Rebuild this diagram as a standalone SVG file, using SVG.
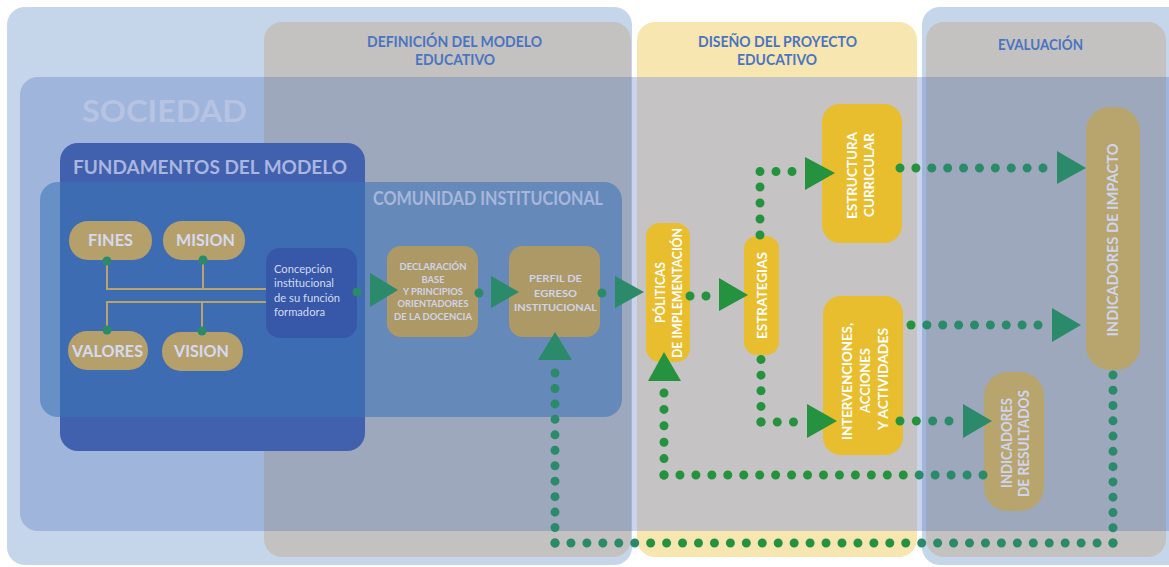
<svg xmlns="http://www.w3.org/2000/svg" width="1169" height="567" viewBox="0 0 1169 567">
<style>
.hd{font-family:Lato,"Liberation Sans",sans-serif;font-weight:700;fill:#4a74c0;font-size:14.5px;text-anchor:middle}
.bt{font-family:Lato,"Liberation Sans",sans-serif;font-weight:700}
.pill{fill:#b5a06b}
.pt{font-family:Lato,"Liberation Sans",sans-serif;font-weight:700;fill:#d5daf0;font-size:17px;text-anchor:middle}
.ct{font-family:Lato,"Liberation Sans",sans-serif;fill:#d3dbef;font-size:11.5px}
.dt{font-family:Lato,"Liberation Sans",sans-serif;font-weight:700;fill:#d0d4e8;font-size:9.5px;text-anchor:middle}
.yl{fill:#e8bd2e}
.yt{font-family:Lato,"Liberation Sans",sans-serif;font-weight:700;fill:#ffffff;font-size:14px;text-anchor:middle}
.it{font-family:Lato,"Liberation Sans",sans-serif;font-weight:700;fill:#cfd5ec;font-size:15px;text-anchor:middle}
.tl{fill:none;stroke:#b9a36b;stroke-width:2}
.dot{fill:none;stroke-width:9;stroke-linecap:round}
.teal{stroke:#2b8a6a}
.grn{stroke:#24923f}
.tri-t{fill:#2b8a6a}
.tri-g{fill:#24923f}
.cd{fill:#2b8a6a}
</style>
<rect width="1169" height="567" fill="#ffffff"/>
<g id="background">
<rect x="7" y="7" width="625" height="558" rx="18" fill="#c5d5ea"/>
<rect x="922" y="7" width="270" height="558" rx="18" fill="#c5d5ea"/>
<rect x="264" y="22" width="367" height="535" rx="18" fill="#c4c2c1"/>
<rect x="637" y="22" width="280" height="535" rx="18" fill="#f8e6b1"/>
<rect x="926" y="22" width="240" height="535" rx="18" fill="#c4c2c1"/>
<rect x="20" y="77" width="1180" height="454" rx="18" fill="#3d66b4" fill-opacity="0.28"/>
<rect x="637" y="77" width="280" height="454" fill="#c5c3c3"/>
<text class="hd" x="454.5" y="47" textLength="175" lengthAdjust="spacingAndGlyphs">DEFINICIÓN DEL MODELO</text>
<text class="hd" x="455" y="65" textLength="80" lengthAdjust="spacingAndGlyphs">EDUCATIVO</text>
<text class="hd" x="777.5" y="47" textLength="159" lengthAdjust="spacingAndGlyphs">DISEÑO DEL PROYECTO</text>
<text class="hd" x="777" y="65" textLength="80" lengthAdjust="spacingAndGlyphs">EDUCATIVO</text>
<text class="hd" x="1040.5" y="50" textLength="85" lengthAdjust="spacingAndGlyphs">EVALUACIÓN</text>
<text class="bt" x="82" y="122" font-size="31" fill="#b6c3e3" textLength="165" lengthAdjust="spacingAndGlyphs">SOCIEDAD</text>
</g>
<g id="fundamentos">
<rect x="60" y="143" width="305" height="308" rx="18" fill="#4160ad"/>
<text class="bt" x="73" y="174" font-size="19.5" fill="#aab6df" textLength="274" lengthAdjust="spacingAndGlyphs">FUNDAMENTOS DEL MODELO</text>
</g>
<g id="comunidad">
<rect x="40" y="182" width="582" height="235" rx="18" fill="#3c75b7" fill-opacity="0.58"/>
<text class="bt" x="373" y="205" font-size="18" fill="#a8b6dc" textLength="230" lengthAdjust="spacingAndGlyphs">COMUNIDAD INSTITUCIONAL</text>
</g>
<g id="fines"><rect class="pill" x="69" y="221" width="83" height="39" rx="19"/><text class="pt" x="110.5" y="246" textLength="45" lengthAdjust="spacingAndGlyphs">FINES</text></g>
<g id="mision"><rect class="pill" x="163" y="221" width="82" height="39" rx="19"/><text class="pt" x="205.5" y="246" textLength="59" lengthAdjust="spacingAndGlyphs">MISION</text></g>
<g id="valores"><rect class="pill" x="68" y="331" width="80" height="39" rx="19"/><text class="pt" x="107.5" y="357" textLength="71" lengthAdjust="spacingAndGlyphs">VALORES</text></g>
<g id="vision"><rect class="pill" x="162" y="332" width="81" height="39" rx="19"/><text class="pt" x="201.5" y="357" textLength="55" lengthAdjust="spacingAndGlyphs">VISION</text></g>
<g id="concepcion">
<rect x="266" y="248" width="91" height="90" rx="14" fill="#3757a9"/>
<text class="ct" x="274" y="273" textLength="58" lengthAdjust="spacingAndGlyphs">Concepción</text>
<text class="ct" x="274" y="287" textLength="60" lengthAdjust="spacingAndGlyphs">institucional</text>
<text class="ct" x="274" y="302" textLength="66" lengthAdjust="spacingAndGlyphs">de su función</text>
<text class="ct" x="274" y="316" textLength="51" lengthAdjust="spacingAndGlyphs">formadora</text>
</g>
<g id="declaracion">
<rect x="387" y="246" width="91" height="91" rx="14" fill="#ad9966"/>
<text class="dt" x="433" y="269.5" textLength="67" lengthAdjust="spacingAndGlyphs">DECLARACIÓN</text>
<text class="dt" x="433" y="282.5" textLength="23" lengthAdjust="spacingAndGlyphs">BASE</text>
<text class="dt" x="433" y="294.5" textLength="60" lengthAdjust="spacingAndGlyphs">Y PRINCIPIOS</text>
<text class="dt" x="433" y="306.5" textLength="71" lengthAdjust="spacingAndGlyphs">ORIENTADORES</text>
<text class="dt" x="433" y="319.5" textLength="78" lengthAdjust="spacingAndGlyphs">DE LA DOCENCIA</text>
</g>
<g id="perfil">
<rect x="509" y="246" width="91" height="91" rx="14" fill="#ad9966"/>
<text class="dt" x="555.5" y="282" font-size="11.5" textLength="53" lengthAdjust="spacingAndGlyphs">PERFIL DE</text>
<text class="dt" x="555.5" y="297" font-size="11.5" textLength="43" lengthAdjust="spacingAndGlyphs">EGRESO</text>
<text class="dt" x="555.5" y="311" font-size="11.5" textLength="83" lengthAdjust="spacingAndGlyphs">INSTITUCIONAL</text>
</g>
<g id="politicas">
<rect class="yl" x="646" y="223" width="44" height="139" rx="14"/>
<text class="yt" transform="translate(665,292.5) rotate(-90)" textLength="61" lengthAdjust="spacingAndGlyphs">PÓLITICAS</text>
<text class="yt" transform="translate(682,293) rotate(-90)" textLength="130" lengthAdjust="spacingAndGlyphs">DE IMPLEMENTACIÓN</text>
</g>
<g id="estrategias">
<rect class="yl" x="744" y="236" width="35" height="119" rx="13"/>
<text class="yt" transform="translate(767,295.5) rotate(-90)" textLength="87" lengthAdjust="spacingAndGlyphs">ESTRATEGIAS</text>
</g>
<g id="estructura">
<rect class="yl" x="822" y="104" width="80" height="139" rx="18"/>
<text class="yt" font-size="15" transform="translate(857,175.5) rotate(-90)" textLength="87" lengthAdjust="spacingAndGlyphs">ESTRUCTURA</text>
<text class="yt" font-size="15" transform="translate(874,175) rotate(-90)" textLength="84" lengthAdjust="spacingAndGlyphs">CURRICULAR</text>
</g>
<g id="intervenciones">
<rect class="yl" x="823" y="296" width="80" height="159" rx="18"/>
<text class="yt" transform="translate(852,381.5) rotate(-90)" textLength="117" lengthAdjust="spacingAndGlyphs">INTERVENCIONES,</text>
<text class="yt" transform="translate(870,380.5) rotate(-90)" textLength="65" lengthAdjust="spacingAndGlyphs">ACCIONES</text>
<text class="yt" transform="translate(888,379) rotate(-90)" textLength="102" lengthAdjust="spacingAndGlyphs">Y ACTIVIDADES</text>
</g>
<g id="indicadores-resultados">
<rect x="984" y="372" width="60" height="139" rx="24" fill="#b8a46d"/>
<text class="it" font-size="14.5" transform="translate(1012,443) rotate(-90)" textLength="90" lengthAdjust="spacingAndGlyphs">INDICADORES</text>
<text class="it" font-size="14.5" transform="translate(1029,443.5) rotate(-90)" textLength="107" lengthAdjust="spacingAndGlyphs">DE RESULTADOS</text>
</g>
<g id="indicadores-impacto">
<rect x="1086" y="107" width="54" height="263" rx="24" fill="#b8a46d"/>
<text class="it" transform="translate(1118,240) rotate(-90)" textLength="193" lengthAdjust="spacingAndGlyphs">INDICADORES DE IMPACTO</text>
</g>
<g id="connectors">
<path class="tl" d="M107,261 V289 H266 M203,260 V289 M107,330 V302 H266 M202,331 V302"/>
<circle class="cd" cx="107" cy="261" r="4.5"/>
<circle class="cd" cx="203" cy="260" r="4.5"/>
<circle class="cd" cx="107" cy="330" r="4.5"/>
<circle class="cd" cx="202" cy="331" r="4.5"/>
<circle class="cd" cx="357" cy="292" r="4.5"/>
<circle class="cd" cx="479" cy="293" r="4.5"/>
<circle class="cd" cx="602" cy="293" r="4.5"/>
<polygon class="tri-t" points="370,273 370,307 398,290"/>
<polygon class="tri-t" points="491,276 491,308 519,292"/>
<polygon class="tri-t" points="615,276 615,308 644,292"/>
<polygon class="tri-t" points="555,332 538,360 572,360"/>
<polygon class="tri-g" points="664,352 648,381 681,381"/>
<polygon class="tri-g" points="719,278 719,311 748,295"/>
<polygon class="tri-g" points="805,157 805,190 835,173"/>
<polygon class="tri-g" points="807,404 807,438 837,421"/>
<polygon class="tri-t" points="1057,151 1057,184 1086,168"/>
<polygon class="tri-t" points="1052,308 1052,342 1081,325"/>
<polygon class="tri-t" points="963,404 963,438 992,421"/>
<path class="dot teal" stroke-dasharray="0 15.4545" d="M555,373 V543.5"/>
<path class="dot teal" stroke-dasharray="0 15.943" d="M555,543 H635.2"/>
<path class="dot grn" stroke-dasharray="0 15.943" d="M650.66,543 H906.2"/>
<path class="dot teal" stroke-dasharray="0 15.943" d="M921.69,543 H1113.5"/>
<path class="dot teal" stroke-dasharray="0 15.2727" d="M1113,543 V374.5"/>
<path class="dot grn" stroke-dasharray="0 15.889" d="M900,168 H916.4"/>
<path class="dot teal" stroke-dasharray="0 15.889" d="M931.78,168 H1043.5"/>
<circle cx="911" cy="325" r="4.5" fill="#24923f"/>
<path class="dot teal" stroke-dasharray="0 15.875" d="M926.875,325 H1038.5"/>
<path class="dot grn" stroke-dasharray="0 16.33" d="M900,421 H916.8"/>
<path class="dot teal" stroke-dasharray="0 16.33" d="M932.66,421 H949.5"/>
<path class="dot grn" stroke-dasharray="0 16.4" d="M664,393 V475.5"/>
<path class="dot grn" stroke-dasharray="0 15.95" d="M664,475 H903.75"/>
<path class="dot teal" stroke-dasharray="0 15.95" d="M919.2,475 H983.5"/>
<path class="dot grn" stroke-dasharray="0 16" d="M760,235 V171"/>
<path class="dot grn" stroke-dasharray="0 16" d="M760,171.5 H792.5"/>
<path class="dot grn" stroke-dasharray="0 15.625" d="M761,359.5 V422.5"/>
<path class="dot grn" stroke-dasharray="0 16.25" d="M761,422 H794"/>
<path class="dot grn" stroke-dasharray="0 16" d="M690,296 H706.5"/>
</g>
</svg>
